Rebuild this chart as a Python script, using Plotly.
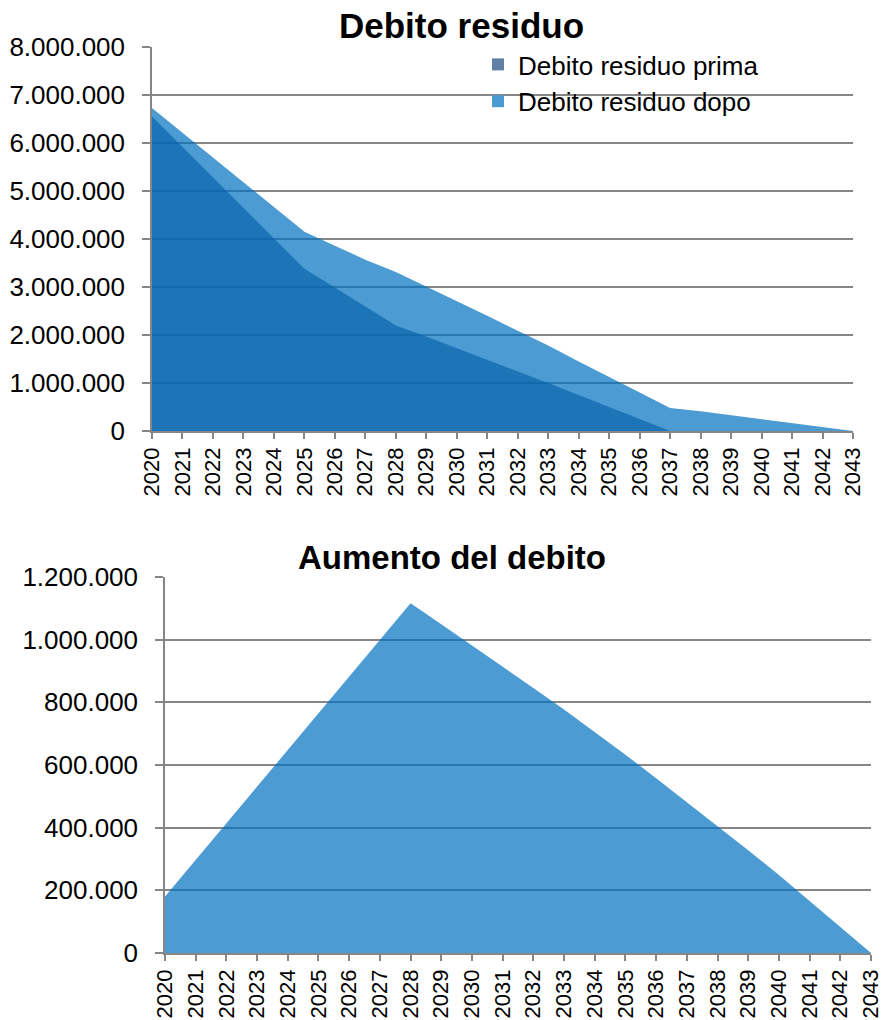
import plotly.graph_objects as go

years = [2020, 2021, 2022, 2023, 2024, 2025, 2026, 2027, 2028, 2029, 2030, 2031,
         2032, 2033, 2034, 2035, 2036, 2037, 2038, 2039, 2040, 2041, 2042, 2043]

debito_prima = [6550000, 5920000, 5280000, 4650000, 4010000, 3380000, 2990000, 2590000,
                2200000, 1970000, 1730000, 1490000, 1250000, 1000000, 750000, 500000,
                250000, 0, 0, 0, 0, 0, 0, 0]

debito_dopo = [6730000, 6210000, 5690000, 5170000, 4660000, 4150000, 3860000, 3570000,
               3310000, 3010000, 2710000, 2400000, 2090000, 1780000, 1450000, 1130000,
               800000, 480000, 410000, 330000, 250000, 170000, 80000, 0]

aumento = [180000, 297000, 414000, 531000, 648000, 765000, 882000, 999000,
           1116000, 1049000, 982000, 914000, 846000, 777000, 706000, 633000,
           558000, 482000, 406000, 328000, 249000, 167000, 84000, 0]

top_yticks = [0, 1000000, 2000000, 3000000, 4000000, 5000000, 6000000, 7000000, 8000000]
bottom_yticks = [0, 200000, 400000, 600000, 800000, 1000000, 1200000]
year_labels = [str(y) for y in years]

FONT = "Arial, Liberation Sans, sans-serif"
GRAY = "#868686"
W, H = 883, 1020

fig = go.Figure()

# top chart
fig.add_trace(go.Scatter(x=years, y=debito_prima, mode="lines", fill="tozeroy",
                         line=dict(width=0, color="rgba(31,73,125,0.7)"),
                         fillcolor="rgba(31,73,125,0.7)", showlegend=False,
                         xaxis="x", yaxis="y", hoverinfo="skip"))
fig.add_trace(go.Scatter(x=years, y=debito_dopo, mode="lines", fill="tozeroy",
                         line=dict(width=0, color="rgba(0,112,192,0.7)"),
                         fillcolor="rgba(0,112,192,0.7)", showlegend=False,
                         xaxis="x", yaxis="y", hoverinfo="skip"))
# legend entries
fig.add_trace(go.Scatter(x=[None], y=[None], mode="markers", name="Debito residuo prima",
                         marker=dict(symbol="square", size=12, color="rgb(97,128,165)"),
                         xaxis="x", yaxis="y"))
fig.add_trace(go.Scatter(x=[None], y=[None], mode="markers", name="Debito residuo dopo",
                         marker=dict(symbol="square", size=12, color="rgb(75,155,210)"),
                         xaxis="x", yaxis="y"))

# bottom chart
fig.add_trace(go.Scatter(x=years, y=aumento, mode="lines", fill="tozeroy",
                         line=dict(width=0, color="rgba(0,112,192,0.7)"),
                         fillcolor="rgba(0,112,192,0.7)", showlegend=False,
                         xaxis="x2", yaxis="y2", hoverinfo="skip"))

common_x = dict(type="linear", tickmode="array", tickvals=years, ticktext=year_labels,
                tickangle=-90, ticks="outside", ticklen=6, tickwidth=1.5, tickcolor=GRAY,
                showline=True, linecolor=GRAY, linewidth=1.5, showgrid=False,
                zeroline=False, range=[2020, 2043], automargin=False,
                ticklabeloverflow="allow",
                tickfont=dict(family=FONT, size=22, color="black"))
common_y = dict(ticks="outside", ticklen=8, tickwidth=1.5, tickcolor=GRAY,
                showline=True, linecolor=GRAY, linewidth=1.5, automargin=False,
                showgrid=True, gridcolor=GRAY, gridwidth=1.5, zeroline=False,
                ticklabelstandoff=12, ticklabeloverflow="allow",
                tickformat=",d", tickfont=dict(family=FONT, size=26, color="black"))

fig.update_layout(
    width=W, height=H,
    margin=dict(l=0, r=0, t=0, b=0, autoexpand=False),
    paper_bgcolor="white", plot_bgcolor="white",
    separators=",.",
    xaxis=dict(domain=[152 / W, 853 / W], anchor="y", **common_x),
    yaxis=dict(domain=[1 - 431 / H, 1 - 47 / H], anchor="x", range=[0, 8000000],
               tickmode="array", tickvals=top_yticks, **common_y),
    xaxis2=dict(domain=[165 / W, 871 / W], anchor="y2", **common_x),
    yaxis2=dict(domain=[1 - 953 / H, 1 - 577 / H], anchor="x2", range=[0, 1200000],
                tickmode="array", tickvals=bottom_yticks, **common_y),
    legend=dict(x=478 / W, y=1 - 41 / H, xanchor="left", yanchor="top",
                bgcolor="rgba(0,0,0,0)", font=dict(family=FONT, size=26, color="black"),
                itemwidth=30, tracegroupgap=0),
    annotations=[
        dict(text="<b>Debito residuo</b>", x=461 / W, y=1 - 25 / H, xref="paper", yref="paper",
             xanchor="center", yanchor="middle", showarrow=False,
             font=dict(family=FONT, size=35, color="black")),
        dict(text="<b>Aumento del debito</b>", x=452 / W, y=1 - 557 / H, xref="paper", yref="paper",
             xanchor="center", yanchor="middle", showarrow=False,
             font=dict(family=FONT, size=33, color="black")),
    ],
)

fig.write_html("out.html")
